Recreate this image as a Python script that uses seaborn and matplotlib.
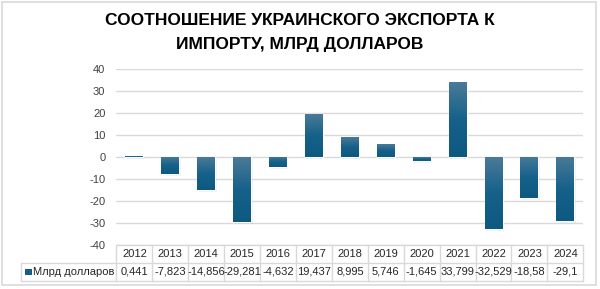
import numpy as np
import matplotlib
matplotlib.use("Agg")
import matplotlib.pyplot as plt
import seaborn as sns
import pandas as pd
from matplotlib.patches import Rectangle
from matplotlib.colors import LinearSegmentedColormap

years = ["2012", "2013", "2014", "2015", "2016", "2017", "2018", "2019", "2020", "2021", "2022", "2023", "2024"]
values = [0.441, -7.823, -14.856, -29.281, -4.632, 19.437, 8.995, 5.746, -1.645, 33.799, -32.529, -18.58, -29.1]
series_name = "Млрд долларов"
title = "СООТНОШЕНИЕ УКРАИНСКОГО ЭКСПОРТА К\nИМПОРТУ, МЛРД ДОЛЛАРОВ"
yticks = [-40, -30, -20, -10, 0, 10, 20, 30, 40]

sns.set_theme(style="white")
plt.rcParams['font.family'] = ['Liberation Sans', 'DejaVu Sans']

W, H = 600, 289
fig = plt.figure(figsize=(6, 2.89), dpi=100)
fig.patch.set_facecolor("white")

def fx(px):
    return px / W

def fy(py):
    return 1 - py / H

# outer border
fig.add_artist(Rectangle((fx(2), fy(285)), fx(596) - fx(2), fy(2) - fy(285),
                         transform=fig.transFigure, fill=False, edgecolor="#d9d9d9", lw=1.2))

left, right = 116.5, 583.3
top, bottom = 68.7, 245.3
ax = fig.add_axes([fx(left), fy(bottom), fx(right) - fx(left), fy(top) - fy(bottom)])

df = pd.DataFrame({"year": years, "value": values})
sns.barplot(data=df, x="year", y="value", width=0.5, color="#155d84", ax=ax,
            saturation=1, zorder=3, errorbar=None)

ax.set_ylim(-40, 40)
ax.set_xlim(-0.5, len(years) - 0.5)
ax.set_yticks(yticks)
ax.set_yticklabels([str(t) for t in yticks], fontsize=8, color="#404040")
ax.tick_params(axis="y", length=0, pad=8)
ax.set_xticks([])
ax.set_xlabel("")
ax.set_ylabel("")
for s in ax.spines.values():
    s.set_visible(False)
for t in yticks:
    ax.axhline(t, color="#d9d9d9", lw=1, zorder=1)

# gradient fill + soft shadow on bars
cmap = LinearSegmentedColormap.from_list("g", ["#0d5980", "#16618a", "#4a7a97"])
grad = np.linspace(0, 1, 100).reshape(-1, 1)
for p in list(ax.patches):
    x0, y0 = p.get_x(), p.get_y()
    w, h = p.get_width(), p.get_height()
    ylo, yhi = min(y0, y0 + h), max(y0, y0 + h)
    for k, a in [(1, 0.10), (2, 0.05)]:
        sh = Rectangle((x0 + 0.02 * k, ylo - 0.45 * k), w, yhi - ylo, color="#000000",
                       alpha=a, zorder=2, lw=0)
        ax.add_patch(sh)
    im = ax.imshow(grad, extent=(x0, x0 + w, ylo, yhi), origin="lower", aspect="auto",
                   cmap=cmap, zorder=4, interpolation="bilinear")
    im.set_clip_path(p)
ax.set_xlim(-0.5, len(years) - 0.5)
ax.set_ylim(-40, 40)

# title
fig.text(0.5, fy(32.5), title, ha="center", va="center", fontsize=12.5, fontweight="bold",
         color="#000000", linespacing=1.7)

# data table
tcol = "#d9d9d9"
t_top, t_mid, t_bot = 245.3, 262.7, 280.7
leg_left = 21
ncol = len(years)
cw = (right - left) / ncol
def hline(y, x0, x1):
    fig.add_artist(plt.Line2D([fx(x0), fx(x1)], [fy(y), fy(y)], transform=fig.transFigure, color=tcol, lw=1))
def vline(x, y0, y1):
    fig.add_artist(plt.Line2D([fx(x), fx(x)], [fy(y0), fy(y1)], transform=fig.transFigure, color=tcol, lw=1))
hline(t_top, left, right)
hline(t_mid, leg_left, right)
hline(t_bot, leg_left, right)
vline(leg_left, t_mid, t_bot)
for i in range(ncol + 1):
    vline(left + i * cw, t_top, t_bot)

def fmt(v):
    return f"{v:g}".replace(".", ",")

for i, (yr, v) in enumerate(zip(years, values)):
    cx = left + (i + 0.5) * cw
    fig.text(fx(cx), fy((t_top + t_mid) / 2), yr, ha="center", va="center", fontsize=8, color="#262626")
    fig.text(fx(cx), fy((t_mid + t_bot) / 2), fmt(v), ha="center", va="center", fontsize=8, color="#262626")

fig.add_artist(Rectangle((fx(25), fy(275)), fx(6.5), fy(268.5) - fy(275), transform=fig.transFigure,
                         color="#155d84", lw=0))
fig.text(fx(33), fy((t_mid + t_bot) / 2), series_name, ha="left", va="center", fontsize=8, color="#262626")

fig.savefig("out.png", dpi=100, facecolor="white")
